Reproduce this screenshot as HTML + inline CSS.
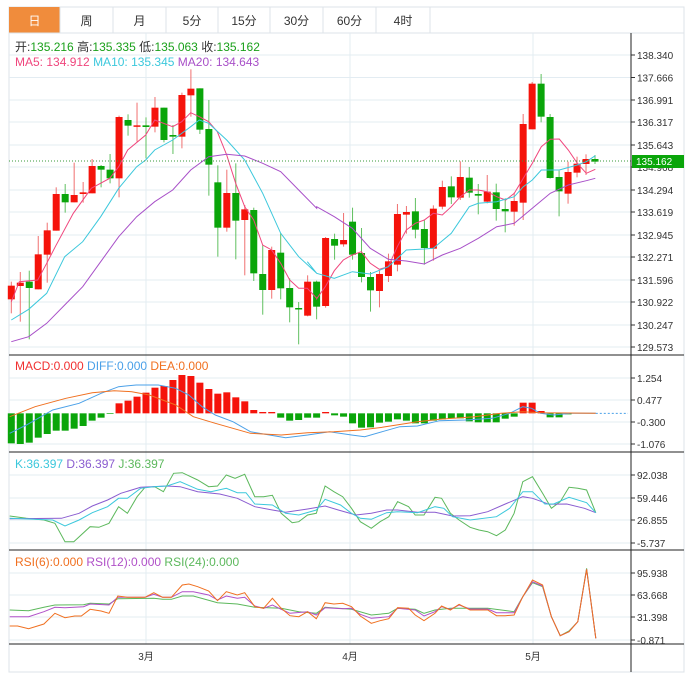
<!DOCTYPE html>
<html><head><meta charset="utf-8"><style>
body{margin:0;background:#fff;font-family:"Liberation Sans","Noto Sans CJK SC",sans-serif;}
svg{display:block}
</style></head><body>
<svg id="s" width="688" height="681" xmlns="http://www.w3.org/2000/svg" font-family="Liberation Sans, Noto Sans CJK SC, sans-serif"></svg>
<script>
var S=document.getElementById('s'),h='';
function L(x1,y1,x2,y2,c,w,d){h+='<line x1="'+x1+'" y1="'+y1+'" x2="'+x2+'" y2="'+y2+'" stroke="'+c+'" stroke-width="'+(w||1)+'"'+(d?' stroke-dasharray="'+d+'"':'')+'/>';}
function R(x,y,w,hh,c,st){h+='<rect x="'+x+'" y="'+y+'" width="'+w+'" height="'+hh+'" fill="'+c+'"'+(st?' stroke="'+st+'"':'')+'/>';}
function T(x,y,t,c,s,a){h+='<text x="'+x+'" y="'+y+'" fill="'+c+'" font-size="'+(s||11)+'"'+(a?' text-anchor="'+a+'"':'')+'>'+t+'</text>';}
function P(pts,c,w){h+='<polyline fill="none" stroke="'+c+'" stroke-width="'+(w||1)+'" points="'+pts.map(function(p){return p[0].toFixed(1)+','+p[1].toFixed(1)}).join(' ')+'"/>';}
var RED='#f5130b',GRN='#0aa50a',GRID='#e3ecf2';
// frame
R(9,7,675,665,'#fff','#dde3e8');
// tabs
var tabs=[['日',9,60],['周',60,113],['月',113,166],['5分',166,218],['15分',218,270],['30分',270,323],['60分',323,376],['4时',376,430]];
tabs.forEach(function(t,i){ if(i==0)R(t[1],7,t[2]-t[1],26,'#f08c3c'); else R(t[1],7,t[2]-t[1],26,'#fff','#dde3e8');
 T((t[1]+t[2])/2,25,t[0],i==0?'#fff':'#333',12,'middle');});
L(9,33,684,33,'#dde3e8');
// main grid
var ticks=[[55,'138.340'],[77.5,'137.666'],[100,'136.991'],[122,'136.317'],[145,'135.643'],[167,'134.968'],[190,'134.294'],[212,'133.619'],[235,'132.945'],[257,'132.271'],[280,'131.596'],[302,'130.922'],[325,'130.247'],[347,'129.573']];
ticks.forEach(function(t){L(9,t[0],631,t[0],GRID);L(631,t[0],635,t[0],'#333');T(637,t[0]+4,t[1],'#333',10);});
[146,350,533].forEach(function(x){L(x,33,x,644,GRID);});
var mt=[[378,'1.254'],[400,'0.477'],[422,'-0.300'],[444,'-1.076'],[475,'92.038'],[498,'59.446'],[520,'26.855'],[543,'-5.737'],[573,'95.938'],[595,'63.668'],[617,'31.398'],[640,'-0.871']];
mt.forEach(function(t){L(9,t[0],631,t[0],GRID);L(631,t[0],635,t[0],'#333');T(637,t[0]+4,t[1],'#333',10);});
// candles
function cx(i){return 11.3+8.98*i;}
var C=[[677,718,665,760,1],[668,678,636,785,1],[665,684,632,838,0],[583,688,528,688,1],[511,584,488,668,1],[402,512,382,512,1],[402,427,372,458,0],[405,427,308,427,1],[397,402,366,428,1],[318,400,297,400,1],[318,329,315,382,0],[329,355,282,370,0],[171,355,167,412,1],[180,197,163,227,0],[196,198,128,245,1],[196,201,172,295,0],[143,200,111,217,1],[143,240,143,247,0],[225,230,195,282,0],[105,230,98,265,1],[86,106,28,170,1],[85,209,85,222,0],[207,314,120,407,0],[367,503,316,590,0],[399,503,329,515,1],[399,482,310,598,0],[448,480,435,646,1],[450,640,443,663,0],[642,690,556,764,0],[570,690,560,716,1],[578,685,519,718,0],[684,742,655,787,0],[744,748,726,853,0],[665,767,646,769,1],[665,740,662,778,0],
[534,738,531,743,1],[537,557,521,599,0],[540,553,459,560,1],[485,584,443,599,0],[579,651,504,667,0],[651,691,636,755,0],[642,693,632,742,1],[604,648,581,666,1],[462,614,432,634,1],[456,464,438,521,1],[454,509,414,535,0],[507,564,480,614,0],[446,566,436,602,1],[381,440,362,448,1],[379,412,349,432,0],[351,413,304,420,1],[353,398,321,413,0],[402,407,372,463,0],[395,425,345,430,1],[397,447,371,482,0],[447,454,415,517,0],[423,455,398,497,1],[192,428,162,480,1],[71,208,66,208,1],[71,170,42,187,0],[171,354,162,356,0],[351,394,332,469,0],[336,401,305,431,1],[311,338,290,352,1],[297,312,283,345,1],[297,305,285,312,0]];
function yy(z){return 60+z/3;}
C.forEach(function(c,i){var x=cx(i),col=c[4]?RED:GRN;L(x,yy(c[2]),x,yy(c[3]),c[4]?'#f07070':'#60c060',1);
 var t=yy(c[0]),b=yy(c[1]);R(x-3.5,t,7,Math.max(1.5,b-t),col);});
function cv(a,ox,sx,oy,sy){return a.map(function(p){return[ox+p[0]/sx,oy+p[1]/sy];});}
var m5a=[[34,725],[58,665],[113,660],[140,610],[166,560],[220,460],[274,385],[329,355],[356,320],[383,270],[437,225],[464,180],[518,200],[545,185],[572,158],[598,170],[626,185],[652,215],[680,285],[707,370],[734,440],[761,480],[788,555],[815,570],[842,610],[869,660],[896,685],[922,685],[950,715]];
var m5b=[[50,716],[76,680],[103,632],[130,600],[157,585],[184,575],[211,610],[238,628],[265,620],[292,560],[319,510],[346,490],[373,480],[400,460],[427,465],[454,440],[481,410],[508,390],[535,390],[562,395],[590,410],[617,420],[643,400],[670,355],[697,310],[724,260],[751,238],[778,237],[805,270],[832,310],[859,340],[886,328]];
P(cv(m5a,0,3,60,3).concat(cv(m5b,300,3,60,3)),'#f0467d');
var m10a=[[34,780],[86,748],[140,700],[194,590],[248,545],[302,470],[356,385],[410,320],[437,300],[464,270],[518,240],[572,200],[598,180],[626,190],[680,240],[734,300],[788,400],[842,520],[896,590],[950,640]];
var m10b=[[22,605],[50,640],[103,655],[157,635],[211,642],[265,620],[319,570],[373,567],[400,565],[454,520],[508,440],[535,430],[590,425],[643,410],[670,380],[697,360],[724,330],[778,330],[832,315],[859,305],[886,287]];
P(cv(m10a,0,3,60,3).concat(cv(m10b,300,3,60,3)),'#3cc8dc');
var m20a=[[34,845],[86,830],[140,790],[194,735],[248,680],[302,605],[356,530],[410,470],[464,425],[518,390],[572,330],[626,290],[680,283],[734,288],[788,310],[842,335],[896,390],[950,445]];
var m20b=[[50,440],[103,470],[157,505],[211,565],[265,598],[319,603],[373,612],[427,585],[481,565],[535,535],[590,500],[643,490],[697,445],[751,400],[805,375],[859,362],[886,355]];
P(cv(m20a,0,3,60,3).concat(cv(m20b,300,3,60,3)),'#a850c8');
L(9,161,631,161,'#3a9a3a',1,'1,2');
R(632,155,52,13,'#0aa50a');T(636,165,'135.162','#fff',10);
// MACD
var z0=350+190/3;
var mv=[280,282,278,263,252,242,242,236,228,212,203,192,160,152,140,128,113,108,90,75,78,98,117,131,127,142,154,180,186,186,203,212,210,203,203,186,196,200,220,233,232,218,215,208,212,220,220,212,208,205,205,214,217,217,217,206,200,158,158,183,202,202,193,190,190,190];
mv.forEach(function(v,i){var y=350+v/3,up=v<190;var t=Math.min(y,z0),b=Math.max(y,z0);if(b-t<0.5)return;R(cx(i)-3.5,t,7,b-t,up?RED:GRN);});
var dif=[[22,250],[60,225],[120,180],[180,160],[230,130],[270,110],[310,105],[360,105],[400,115],[430,135],[460,170],[490,195],[530,215],[570,245],[600,252],[650,263],[700,255],[750,245],[800,255],[830,260],[870,245],[910,230],[950,228],[1000,212],[1060,210],[1120,205],[1160,190],[1190,170],[1210,175],[1230,190],[1260,195],[1300,190],[1356,190]];
var dea=[[22,200],[80,170],[150,145],[210,128],[260,122],[300,125],[340,135],[400,165],[440,200],[490,220],[570,250],[640,255],[700,248],[760,245],[820,240],[870,232],[950,215],[1000,208],[1080,200],[1140,190],[1190,185],[1230,188],[1356,190]];
P(cv(dif,0,2.276,350,3),'#4aa0e8');P(cv(dea,0,2.276,350,3),'#f07020');
L(1356/2.276,z0,628,z0,'#4aa0e8',1,'2,2');
// KDJ
var J=[[22,498],[60,505],[100,510],[125,520],[148,575],[168,575],[205,530],[225,532],[248,520],[270,470],[290,490],[312,440],[330,412],[352,410],[372,425],[395,370],[415,368],[450,390],[475,410],[495,408],[515,375],[535,385],[557,373],[580,440],[600,440],[620,436],[640,490],[665,518],[680,515],[700,495],[720,490],[740,408],[760,425],[780,440],[800,475],[820,515],[845,535],[865,515],[885,500],[905,455],[930,470],[945,495],[965,495],[990,442],[1005,445],[1025,490],[1045,510],[1070,532],[1090,540],[1110,545],[1130,557],[1150,540],[1170,490],[1190,395],[1212,380],[1235,430],[1255,475],[1275,455],[1295,412],[1315,415],[1335,420],[1356,488]];
var K=[[22,505],[120,510],[148,528],[180,510],[210,488],[245,470],[270,445],[290,445],[320,415],[350,410],[380,408],[410,395],[450,418],[480,425],[515,415],[540,428],[560,428],[580,462],[620,465],[650,490],[680,495],[720,480],[740,448],[775,465],[800,490],[820,505],[845,508],[880,488],[905,485],[930,487],[950,488],[990,470],[1010,475],[1030,500],[1070,510],[1130,500],[1160,475],[1190,425],[1212,425],[1240,462],[1260,462],[1295,442],[1335,458],[1356,488]];
var D=[[22,506],[140,505],[180,490],[210,468],[245,450],[275,430],[320,412],[380,408],[410,410],[450,425],[500,432],[540,445],[580,470],[620,480],[650,487],[700,477],[740,468],[770,480],[810,495],[845,490],[880,480],[905,480],[950,487],[990,487],[1030,498],[1070,497],[1110,485],[1150,462],[1190,440],[1212,445],[1250,463],[1290,462],[1330,475],[1356,488]];
P(cv(J,0,2.276,350,3),'#5cb85c');P(cv(D,0,2.276,350,3),'#8a5cd0');P(cv(K,0,2.276,350,3),'#3cc8dc');
// RSI
var r6=[[22,828],[40,828],[65,836],[100,822],[125,790],[148,803],[170,798],[185,798],[205,778],[230,783],[248,790],[268,738],[290,742],[330,742],[350,728],[370,742],[390,742],[415,705],[430,702],[450,710],[475,723],[495,752],[515,725],[540,735],[557,728],[580,770],[600,775],[620,745],[640,775],[660,797],[680,800],[700,785],[720,806],[740,758],[760,762],[780,760],[800,770],[820,798],[845,820],[865,812],[885,806],[905,773],[930,775],[945,795],[965,812],[990,790],[1005,768],[1025,780],[1045,763],[1070,780],[1090,780],[1110,780],[1130,797],[1150,797],[1170,795],[1190,740],[1212,690],[1235,705],[1255,800],[1275,857],[1295,845],[1315,815],[1335,658],[1356,865]];
var r12=[[22,800],[65,800],[100,785],[125,772],[148,773],[190,770],[205,762],[248,765],[268,742],[330,742],[350,733],[370,742],[390,742],[415,725],[440,725],[475,735],[495,750],[515,738],[540,745],[557,742],[580,768],[600,775],[620,765],[640,778],[660,790],[700,785],[720,795],[740,773],[780,776],[800,775],[820,793],[845,805],[885,800],[905,775],[945,780],[965,798],[990,785],[1005,770],[1025,778],[1045,765],[1070,777],[1110,777],[1130,788],[1170,788],[1190,740],[1212,695],[1235,708],[1255,800],[1275,857],[1295,845],[1315,815],[1335,658],[1356,865]];
var r24=[[22,780],[65,782],[100,772],[125,765],[190,764],[205,760],[248,762],[268,746],[350,745],[370,748],[390,748],[415,738],[440,738],[495,758],[540,762],[580,772],[640,775],[680,785],[720,790],[740,772],[800,778],[845,795],[885,790],[905,775],[945,778],[965,790],[990,780],[1025,775],[1070,775],[1110,775],[1170,785],[1190,740],[1212,698],[1235,710],[1255,800],[1275,857],[1295,843],[1315,815],[1335,655],[1356,865]];
P(cv(r24,0,2.276,350,3),'#5cb85c');P(cv(r12,0,2.276,350,3),'#b050c8');P(cv(r6,0,2.276,350,3),'#f07020');
// panel borders
[355,452,550,644].forEach(function(y){L(9,y,684,y,'#222');});
L(631,33,631,672,'#222');
// x labels
T(146,660,'3月','#333',10,'middle');T(350,660,'4月','#333',10,'middle');T(533,660,'5月','#333',10,'middle');
// legends
h+='<text x="15" y="51" font-size="12"><tspan fill="#333">开:</tspan><tspan fill="#1aa01a">135.216 </tspan><tspan fill="#333"> 高:</tspan><tspan fill="#1aa01a">135.335 </tspan><tspan fill="#333"> 低:</tspan><tspan fill="#1aa01a">135.063 </tspan><tspan fill="#333"> 收:</tspan><tspan fill="#1aa01a">135.162</tspan></text>';
h+='<text x="15" y="66" font-size="12"><tspan fill="#f0467d">MA5: 134.912 </tspan><tspan fill="#3cc8dc"> MA10: 135.345 </tspan><tspan fill="#a850c8"> MA20: 134.643</tspan></text>';
h+='<text x="15" y="370" font-size="12"><tspan fill="#f03030">MACD:0.000 </tspan><tspan fill="#4aa0e8"> DIFF:0.000 </tspan><tspan fill="#f07020"> DEA:0.000</tspan></text>';
h+='<text x="15" y="468" font-size="12"><tspan fill="#3cc8dc">K:36.397 </tspan><tspan fill="#8a5cd0"> D:36.397 </tspan><tspan fill="#5cb85c"> J:36.397</tspan></text>';
h+='<text x="15" y="566" font-size="12"><tspan fill="#f07020">RSI(6):0.000 </tspan><tspan fill="#b050c8"> RSI(12):0.000 </tspan><tspan fill="#5cb85c"> RSI(24):0.000</tspan></text>';
S.innerHTML=h;
</script>
</body></html>
